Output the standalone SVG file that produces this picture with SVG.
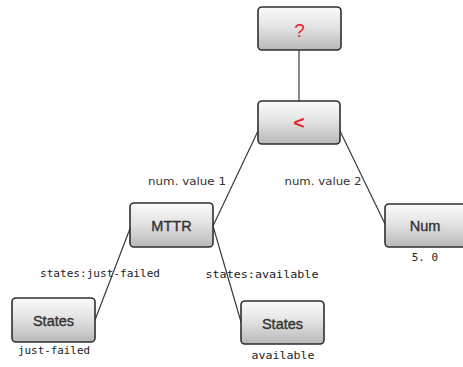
<svg xmlns="http://www.w3.org/2000/svg" width="463" height="367" viewBox="0 0 463 367">
  <defs>
    <linearGradient id="boxFill" x1="0" y1="0" x2="0" y2="1">
      <stop offset="0" stop-color="#fbfbfb"/>
      <stop offset="0.45" stop-color="#e4e4e4"/>
      <stop offset="1" stop-color="#b8b8b8"/>
    </linearGradient>
  </defs>
  <style>
    .box { fill: url(#boxFill); stroke: #2e2e2e; stroke-width: 1.6; }
    .op { font-family: "Liberation Sans", Arial, sans-serif; font-size: 19px; fill: #e8202e; text-anchor: middle; }
    .bold { font-weight: bold; }
    .name { font-family: "Liberation Sans", Arial, sans-serif; font-size: 14.5px; fill: #333333; stroke: #333333; stroke-width: 0.35; text-anchor: middle; }
    .edge { stroke: #3a3a3a; stroke-width: 1.2; fill: none; }
    .elabel { font-family: "DejaVu Sans", Verdana, sans-serif; font-size: 11px; fill: #333333; text-anchor: middle; }
    .mono { font-family: "DejaVu Sans Mono", "Liberation Mono", monospace; font-size: 11px; fill: #222222; text-anchor: middle; }
  </style>

  <!-- connectors -->
  <g id="connectors">
    <line class="edge" x1="299" y1="50" x2="299" y2="101"/>
    <line class="edge" x1="258" y1="131" x2="213" y2="226"/>
    <line class="edge" x1="340" y1="131" x2="386" y2="226"/>
    <line class="edge" x1="131" y1="226" x2="95" y2="320"/>
    <line class="edge" x1="213" y1="226" x2="241" y2="322"/>
    <text class="elabel" x="187" y="185" textLength="78" lengthAdjust="spacingAndGlyphs">num. value 1</text>
    <text class="elabel" x="323" y="185" textLength="77" lengthAdjust="spacingAndGlyphs">num. value 2</text>
    <text class="mono" x="100" y="277" textLength="120" lengthAdjust="spacingAndGlyphs">states:just-failed</text>
    <text class="mono" x="262" y="278" textLength="113" lengthAdjust="spacingAndGlyphs">states:available</text>
  </g>

  <g id="node-root">
    <rect class="box" x="258" y="7" width="83" height="43" rx="4"/>
    <text class="op" x="299.5" y="37" font-size="20">?</text>
  </g>

  <g id="node-less">
    <rect class="box" x="258" y="101" width="82" height="43" rx="4"/>
    <text class="op bold" x="299" y="129">&lt;</text>
  </g>

  <g id="node-mttr">
    <rect class="box" x="130" y="203" width="83" height="44" rx="4"/>
    <text class="name" x="171.5" y="230.5">MTTR</text>
  </g>

  <g id="node-num">
    <rect class="box" x="385" y="204" width="83" height="43" rx="4"/>
    <text class="name" x="425" y="231">Num</text>
    <text class="mono" x="425" y="261">5. 0</text>
  </g>

  <g id="node-states-failed">
    <rect class="box" x="12" y="298" width="83" height="44" rx="4"/>
    <text class="name" x="53.5" y="325.5">States</text>
    <text class="mono" x="54" y="354" textLength="72" lengthAdjust="spacingAndGlyphs">just-failed</text>
  </g>

  <g id="node-states-available">
    <rect class="box" x="241" y="301" width="83" height="43" rx="4"/>
    <text class="name" x="282.5" y="328.5">States</text>
    <text class="mono" x="283" y="359" textLength="63" lengthAdjust="spacingAndGlyphs">available</text>
  </g>
</svg>
